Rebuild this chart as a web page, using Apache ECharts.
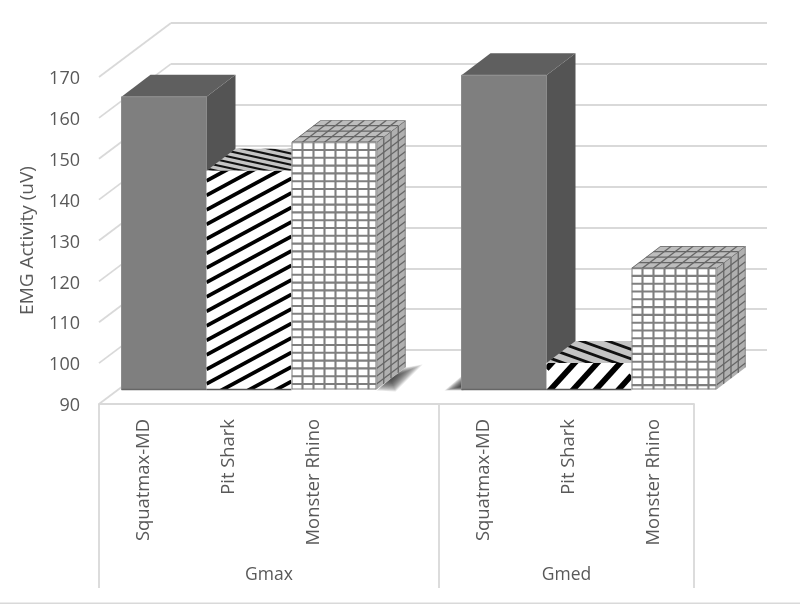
<!DOCTYPE html>
<html>
<head>
<meta charset="utf-8">
<style>html,body{margin:0;padding:0;background:#fff}#c{width:800px;height:604px}</style>
<script src="https://cdn.jsdelivr.net/npm/echarts@6/dist/echarts.min.js"></script>
</head>
<body>
<div id="c"></div>
<script>
var categories = ['Squatmax-MD', 'Pit Shark', 'Monster Rhino', ' ', 'Squatmax-MD', 'Pit Shark', 'Monster Rhino'];
var groupNames = ['Gmax', 'Gmed'];
var groupFirst = [0, 4];
var groupLast = [3, 6];
var yTicks = [90, 100, 110, 120, 130, 140, 150, 160, 170];
var squatmaxValues = [[0, 161.6], [4, 166.9]];
var pitSharkValues = [[1, 143.5], [5, 96.5]];
var monsterRhinoValues = [[2, 150.5], [6, 119.7]];

var FONT = '"Open Sans", sans-serif';
var TEXT = '#595959', GRID = '#d9d9d9';
var PLANE_X = 22.5, PLANE_Y = -14.5, DX = 29, DY = 22;

function box(params, api) {
  var p = api.coord([api.value(0), api.value(1)]);
  var b = api.coord([api.value(0), 90]);
  var w = api.size([1, 0])[0];
  var L = p[0] - w / 2 + PLANE_X, R = L + w, T = p[1] + PLANE_Y, B = b[1] + PLANE_Y;
  return {
    L: L, R: R, T: T, B: B,
    front: [[L, T], [R, T], [R, B], [L, B]],
    top: [[L, T], [R, T], [R + DX, T - DY], [L + DX, T - DY]],
    side: [[R, T], [R + DX, T - DY], [R + DX, B - DY], [R, B]]
  };
}
function poly(pts, fill, stroke) {
  var s = { fill: fill };
  if (stroke) { s.stroke = stroke; s.lineWidth = 1; }
  return { type: 'polygon', shape: { points: pts }, style: s };
}
function seg(x1, y1, x2, y2, color, width) {
  return { type: 'line', shape: { x1: x1, y1: y1, x2: x2, y2: y2 }, style: { stroke: color, lineWidth: width } };
}
function clipped(pts, children) {
  return { type: 'group', clipPath: { type: 'polygon', shape: { points: pts } }, children: children };
}
// Soft shadow: nested translucent shapes that shrink toward the dark core.
function softShadow(anchor, pts, layers, alpha) {
  var out = [];
  for (var i = 0; i < layers; i++) {
    var f = 1 - i / layers;
    out.push(poly(pts.map(function (q) {
      return [anchor[0] + (q[0] - anchor[0]) * f, anchor[1] + (q[1] - anchor[1]) * f];
    }), 'rgba(40,40,40,' + alpha + ')'));
  }
  return out;
}

function renderSquatmax(params, api) {
  var g = box(params, api), kids = [];
  if (api.value(0) === 4) {
    kids = kids.concat(softShadow([g.L, g.B - 3], [[g.L + 2, g.B - 15], [g.L + 2, g.B + 1], [g.L - 17, g.B + 1]], 14, 0.11));
  }
  kids.push(poly(g.side, '#545454'));
  kids.push(poly(g.top, '#5f5f5f'));
  kids.push(poly(g.front, '#7f7f7f', '#8c8c8c'));
  kids.push(seg(g.L, g.B, g.R, g.B, '#666666', 1.5));
  return { type: 'group', children: kids };
}

function renderPitShark(params, api) {
  var g = box(params, api);
  var first = api.value(0) === 1;
  var slope = first ? 0.54 : 1.1, period = first ? 14.5 : 25, lw = first ? 3.8 : 5.7, phase = first ? 10 : 6;
  var w = g.R - g.L, lines = [];
  var y;
  for (y = g.T + phase - 2 * period; y < g.B + w * slope + period; y += period) {
    lines.push(seg(g.L, y, g.R, y - w * slope, '#000000', lw));
  }
  var tSlope = first ? 0.22 : 0.36, tPeriod = first ? 5.6 : 9.5, tw = first ? 2.1 : 2.8;
  var tLines = [], span = w + DX;
  for (y = g.T - DY - span * tSlope - tPeriod; y < g.T + tPeriod; y += tPeriod) {
    tLines.push(seg(g.L, y, g.R + DX, y + span * tSlope, '#111111', tw));
  }
  return { type: 'group', children: [
    poly(g.top, '#c4c4c4'),
    clipped(g.top, tLines),
    poly(g.front, '#ffffff'),
    clipped(g.front, lines),
    seg(g.L, g.B, g.R, g.B, '#555555', 1.5)
  ] };
}

function renderRhino(params, api) {
  var g = box(params, api), kids = [];
  var LINE = '#7f7f7f', DARK = '#666666', CW = 11, RH = 7.8;
  if (api.value(0) === 2) {
    kids = kids.concat(softShadow([g.R + 14, g.B - 11],
      [[g.R, g.B + 1], [g.R + DX, g.B - DY], [g.R + 46, g.B - DY - 3], [g.R + 19, g.B + 2]], 14, 0.11));
  }
  var w = g.R - g.L, x, y, t;
  kids.push(poly(g.top, '#bdbdbd'));
  var tl = [];
  for (x = 0; x <= w + 1; x += CW) tl.push(seg(g.L + x, g.T, g.L + x + DX, g.T - DY, DARK, 1.3));
  for (t = 0; t <= 1.001; t += 0.25) tl.push(seg(g.L + DX * t, g.T - DY * t, g.R + DX * t, g.T - DY * t, DARK, 1.3));
  kids.push(clipped(g.top, tl));
  kids.push(poly(g.side, '#b0b0b0'));
  var sl = [];
  for (t = 0; t <= 1.001; t += 0.25) sl.push(seg(g.R + DX * t, g.T - DY * t, g.R + DX * t, g.B - DY * t, DARK, 1.3));
  for (y = g.T; y <= g.B + 1; y += RH) sl.push(seg(g.R, y, g.R + DX, y - DY, DARK, 1.3));
  kids.push(clipped(g.side, sl));
  kids.push(poly(g.front, '#ffffff'));
  var fl = [];
  for (x = 0; x <= w + 1; x += CW) fl.push(seg(g.L + x, g.T, g.L + x, g.B, LINE, 2.1));
  for (y = g.T; y <= g.B + 1; y += RH) fl.push(seg(g.L, y, g.R, y, LINE, 2.1));
  fl.push(seg(g.R, g.T, g.R, g.B, LINE, 2.1));
  fl.push(seg(g.L, g.B, g.R, g.B, LINE, 2));
  kids.push(clipped(g.front, fl));
  return { type: 'group', children: kids };
}

function renderLeftWall(params, api) {
  var p = api.coord([0, api.value(0)]);
  var x = p[0] - api.size([1, 0])[0] / 2;
  return seg(x, p[1], x + 72, p[1] - 54, GRID, 1.8);
}

function renderGroup(params, api) {
  var first = groupFirst[params.dataIndex], last = groupLast[params.dataIndex];
  var half = api.size([1, 0])[0] / 2;
  var a = api.coord([first, 90]), b = api.coord([last, 90]);
  var x1 = a[0] - half, x2 = b[0] + half, y = a[1], end = y + 184;
  var kids = [seg(x2, y, x2, end, GRID, 1.8)];
  if (params.dataIndex === 0) kids.push(seg(x1, y, x1, end, GRID, 1.8));
  kids.push({ type: 'text', style: {
    x: (x1 + x2) / 2, y: y + 171, text: groupNames[params.dataIndex],
    fill: TEXT, font: '17.5px ' + FONT, textAlign: 'center', textVerticalAlign: 'middle'
  } });
  return { type: 'group', children: kids };
}

var chart = echarts.init(document.getElementById('c'), null, { renderer: 'canvas' });
chart.setOption({
  animation: false,
  backgroundColor: '#ffffff',
  grid: [
    { left: 99, top: 77, width: 595, height: 327 },
    { left: 171, top: 23, width: 596, height: 327 }
  ],
  xAxis: [
    { type: 'category', gridIndex: 0, data: categories, boundaryGap: true,
      axisTick: { show: false },
      axisLine: { show: true, lineStyle: { color: GRID, width: 1.8 } },
      axisLabel: { interval: 0, rotate: 90, margin: 15, color: TEXT, fontFamily: FONT, fontSize: 18.4,
        formatter: '{a|{value}}',
        rich: { a: { padding: [4, 0, 0, 0], color: TEXT, fontFamily: FONT, fontSize: 18.4 } } } },
    { type: 'category', gridIndex: 1, data: categories, show: false }
  ],
  yAxis: [
    { type: 'value', gridIndex: 0, min: 90, max: 170, interval: 10,
      name: 'EMG Activity (uV)', nameLocation: 'middle', nameGap: 62,
      nameTextStyle: { color: TEXT, fontFamily: FONT, fontSize: 19 },
      axisLine: { show: false }, axisTick: { show: false }, splitLine: { show: false },
      axisLabel: { margin: 19, color: TEXT, fontFamily: FONT, fontSize: 18,
        formatter: '{a|{value}}',
        rich: { a: { padding: [4, 0, 0, 0], color: TEXT, fontFamily: FONT, fontSize: 18 } } } },
    { type: 'value', gridIndex: 1, min: 90, max: 170, interval: 10,
      axisLine: { show: false }, axisTick: { show: false }, axisLabel: { show: false },
      splitLine: { show: true, lineStyle: { color: GRID, width: 1.8 } } }
  ],
  graphic: [{ type: 'rect', shape: { x: 0, y: 602.5, width: 800, height: 1.5 }, style: { fill: GRID }, silent: true }],
  series: [
    { type: 'custom', name: 'Axes', xAxisIndex: 0, yAxisIndex: 0, silent: true,
      data: yTicks.map(function (v) { return [v]; }), encode: { y: 0 }, renderItem: renderLeftWall },
    { type: 'custom', name: 'Groups', xAxisIndex: 0, yAxisIndex: 0, silent: true,
      data: groupNames.map(function (n, i) { return [i]; }), renderItem: renderGroup },
    { type: 'custom', name: 'Squatmax-MD', xAxisIndex: 0, yAxisIndex: 0, silent: true,
      data: squatmaxValues, encode: { x: 0, y: 1 }, renderItem: renderSquatmax },
    { type: 'custom', name: 'Pit Shark', xAxisIndex: 0, yAxisIndex: 0, silent: true,
      data: pitSharkValues, encode: { x: 0, y: 1 }, renderItem: renderPitShark },
    { type: 'custom', name: 'Monster Rhino', xAxisIndex: 0, yAxisIndex: 0, silent: true,
      data: monsterRhinoValues, encode: { x: 0, y: 1 }, renderItem: renderRhino }
  ]
});
</script>
</body>
</html>
